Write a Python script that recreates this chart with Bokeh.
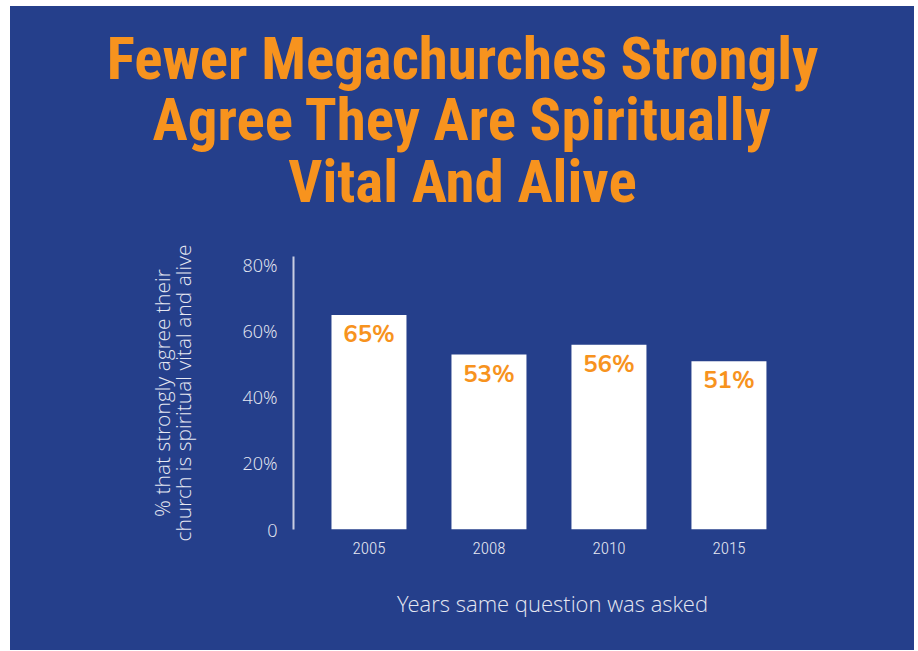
from bokeh.plotting import figure
from bokeh.models import Range1d, FixedTicker, Label
from bokeh.core.properties import value
from bokeh.embed import file_html
from bokeh.resources import INLINE

years = ["2005", "2008", "2010", "2015"]
pct = [65, 53, 56, 51]
y_ticks = [0, 20, 40, 60, 80]
y_tick_labels = ["0", "20%", "40%", "60%", "80%"]
title_lines = ["Fewer Megachurches Strongly", "Agree They Are Spiritually", "Vital And Alive"]
y_label_lines = ["% that strongly agree their", "church is spiritual vital and alive"]
x_label = "Years same question was asked"

BLUE = "#253F8B"
ORANGE = "#F7931E"
LIGHT = "#E6E8F2"

xs = list(range(len(years)))
p = figure(width=904, height=644, margin=(6, 0, 0, 10), title=None,
           output_backend="svg", toolbar_location=None,
           x_range=Range1d(-0.629, 3.688),
           y_range=Range1d(0, 82.7),
           min_border_left=283, min_border_right=103,
           min_border_top=250, min_border_bottom=121)
p.border_fill_color = None
p.background_fill_color = None
p.styles = {"background-color": BLUE}
p.outline_line_color = None
p.grid.grid_line_color = None

# title: three centred lines, each in its own stacked panel above the frame
for line, ty in zip(reversed(title_lines), [75, 68, 60]):
    p.add_layout(Label(x=169, y=ty, x_units="screen", y_units="screen", text=line,
                       text_align="center", text_baseline="alphabetic",
                       text_color=ORANGE, text_font="Roboto Condensed",
                       text_font_style="bold", text_font_size="59px"), "above")

p.vbar(x=xs, top=pct, width=0.625, color="white", line_color=None)
p.text(x=xs, y=pct, text=[f"{v}%" for v in pct], text_align="center",
       text_baseline="alphabetic", y_offset=19, text_color=ORANGE,
       text_font=value("Nunito"), text_font_style="bold", text_font_size="24px")

# x axis
p.xaxis.ticker = FixedTicker(ticks=xs)
p.xaxis.major_label_overrides = {i: y for i, y in enumerate(years)}
p.xaxis.axis_line_color = None
p.xaxis.major_tick_line_color = None
p.xaxis.minor_tick_line_color = None
p.xaxis.major_label_text_font = "Roboto Condensed Light"
p.xaxis.major_label_text_font_size = "17px"
p.xaxis.major_label_text_color = LIGHT
p.xaxis.major_label_standoff = 6
p.xaxis.axis_label = x_label
p.xaxis.axis_label_text_font = "Open Sans Light"
p.xaxis.axis_label_text_font_style = "normal"
p.xaxis.axis_label_text_font_size = "22px"
p.xaxis.axis_label_text_color = LIGHT
p.xaxis.axis_label_standoff = 31

# y axis
p.yaxis.ticker = FixedTicker(ticks=y_ticks)
p.yaxis.major_label_overrides = dict(zip(y_ticks, y_tick_labels))
p.yaxis.axis_line_color = "#C9CDE2"
p.yaxis.axis_line_width = 2
p.yaxis.major_tick_line_color = None
p.yaxis.minor_tick_line_color = None
p.yaxis.major_label_text_font = "Open Sans Light"
p.yaxis.major_label_text_font_size = "18px"
p.yaxis.major_label_text_color = LIGHT
p.yaxis.major_label_standoff = 10
p.yaxis.axis_label = "\n".join(y_label_lines)
p.yaxis.axis_label_text_font = "Open Sans Light"
p.yaxis.axis_label_text_font_style = "normal"
p.yaxis.axis_label_text_font_size = "21px"
p.yaxis.axis_label_text_line_height = 0.78
p.yaxis.axis_label_text_color = LIGHT
p.yaxis.axis_label_standoff = 42

open("out.html", "w").write(file_html(p, INLINE))
